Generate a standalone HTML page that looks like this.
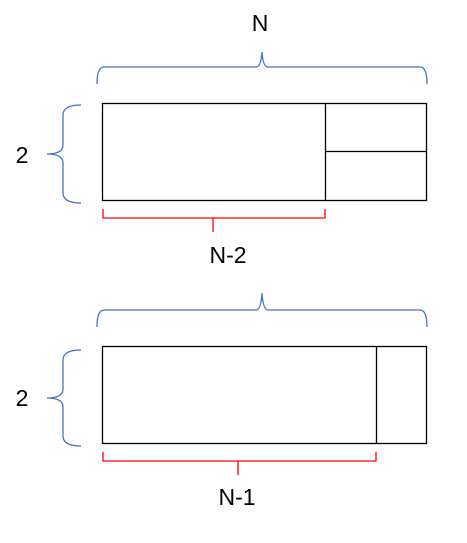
<!DOCTYPE html>
<html><head><meta charset="utf-8"><style>
html,body{margin:0;padding:0;background:#fff;}
svg{display:block;}
text{font-family:"Liberation Sans",sans-serif;font-size:23px;fill:#000;}
</style></head><body>
<svg width="467" height="543" viewBox="0 0 467 543">
<g fill="none" stroke-width="1.3">
<text x="260" y="31" text-anchor="middle">N</text>
<path d="M97,84 Q97,67 104,67 L256,67 Q261,67 262,52 Q263,67 268,67 L420,67 Q427,67 427,84" stroke="#4472c4"/>
<path d="M81,105 Q63,105 63,115 L63,145 Q63,154 47,154 Q63,154 63,163 L63,193 Q63,203 81,203" stroke="#4472c4"/>
<text x="22" y="163" text-anchor="middle">2</text>
<rect x="102.5" y="103.5" width="324" height="97" stroke="#000"/>
<line x1="325.5" y1="103" x2="325.5" y2="200" stroke="#000"/>
<line x1="325" y1="151.5" x2="426" y2="151.5" stroke="#000"/>
<path d="M103,209 L103,218 L213,218 L213,232 M213,218 L325,218 L325,209" stroke="#ff0000"/>
<text x="228" y="263" text-anchor="middle">N-2</text>
<path d="M97,327 Q97,310 104,310 L256,310 Q261,310 262,293 Q263,310 268,310 L420,310 Q427,310 427,327" stroke="#4472c4"/>
<path d="M81,350 Q63,350 63,360 L63,389 Q63,398 47,398 Q63,398 63,407 L63,436 Q63,446 81,446" stroke="#4472c4"/>
<text x="22" y="406" text-anchor="middle">2</text>
<rect x="102.5" y="346.5" width="324" height="97" stroke="#000"/>
<line x1="376.5" y1="346" x2="376.5" y2="443" stroke="#000"/>
<path d="M103,452 L103,461 L238,461 L238,475 M238,461 L376,461 L376,452" stroke="#ff0000"/>
<text x="237" y="505" text-anchor="middle">N-1</text>
</g>
</svg>
</body></html>
